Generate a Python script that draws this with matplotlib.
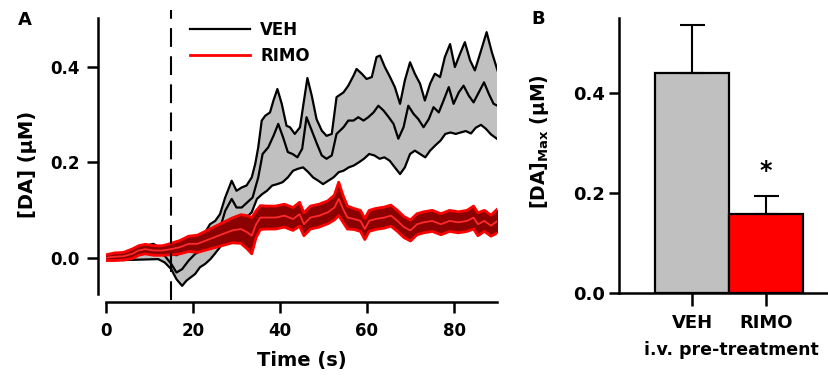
import matplotlib
matplotlib.use("Agg")
import matplotlib.pyplot as plt
from matplotlib.lines import Line2D
import numpy as np

plt.rcParams['font.family'] = ['DejaVu Sans']
plt.rcParams['font.weight'] = 'bold'
plt.rcParams['mathtext.fontset'] = 'dejavusans'

# ---------------- Panel A data ----------------
veh_upper_t = [0, 4, 7.8, 10.9, 12.8, 15, 16.2, 17.8, 19.3, 20.5, 21.6, 22.8, 23.9, 25.1, 26.2, 27.4,
               28.9, 30, 31.2, 32.3, 33.5, 34.3, 35, 35.8, 36.6, 37.7, 38.5, 39.4, 40.4, 41.5, 42.3,
               43.4, 44.6, 45.4, 46.3, 47.3, 48.4, 49.6, 50.7, 51.9, 53, 54.6, 55.7, 56.9, 57.6, 58.8,
               59.9, 61.1, 62.2, 63, 64.1, 65.3, 66.4, 67.6, 68.7, 69.9, 71, 72.2, 73.3, 74.5, 75.6,
               76.8, 77.9, 79.1, 80.2, 81.4, 82.5, 83.7, 84.8, 86, 87.5, 88.7, 90]
veh_upper = [0.004, 0.008, 0.022, 0.029, 0.018, 0.008, 0.005, 0.015, 0.018, 0.032, 0.043, 0.053, 0.07,
             0.077, 0.091, 0.126, 0.161, 0.14, 0.147, 0.151, 0.168, 0.196, 0.231, 0.287, 0.297, 0.304,
             0.329, 0.353, 0.322, 0.276, 0.273, 0.259, 0.273, 0.322, 0.376, 0.339, 0.29, 0.266, 0.255,
             0.259, 0.336, 0.346, 0.36, 0.381, 0.395, 0.385, 0.374, 0.378, 0.42, 0.423, 0.399, 0.378,
             0.357, 0.322, 0.371, 0.409, 0.385, 0.364, 0.329, 0.364, 0.385, 0.378, 0.42, 0.447, 0.399,
             0.427, 0.451, 0.413, 0.392, 0.427, 0.472, 0.43, 0.392]

veh_mean_t = [0, 3, 6, 8, 10, 12, 13.5, 15, 16.2, 17.5, 19, 20.5, 22, 23.5, 25, 26.5, 27.4, 28.9, 30,
              31.2, 32.5, 33.7, 35, 36, 37.3, 38.5, 39.6, 40.7, 41.8, 42.9, 44, 45.1, 46.1, 47.3, 48.5,
              49.6, 50.7, 51.9, 53, 54.6, 55.7, 56.9, 58, 59.2, 60.3, 61.5, 62.6, 63.8, 65, 66.1, 67.2,
              68.4, 69.5, 70.7, 71.8, 73, 74.2, 75.3, 76.5, 77.6, 78.8, 79.9, 81.1, 82.2, 83.4, 84.5,
              85.7, 86.9, 88, 89.1, 90]
veh_mean = [0.002, 0.0, 0.006, 0.01, 0.015, 0.01, 0.004, -0.013, -0.031, -0.024, -0.006, 0.008, 0.015,
            0.036, 0.05, 0.07, 0.098, 0.123, 0.105, 0.105, 0.116, 0.126, 0.168, 0.217, 0.231, 0.255,
            0.28, 0.252, 0.221, 0.217, 0.21, 0.228, 0.294, 0.266, 0.238, 0.214, 0.207, 0.214, 0.259,
            0.273, 0.287, 0.287, 0.294, 0.287, 0.294, 0.304, 0.318, 0.308, 0.294, 0.28, 0.249, 0.273,
            0.318, 0.301, 0.29, 0.273, 0.29, 0.315, 0.304, 0.329, 0.357, 0.322, 0.346, 0.36, 0.339,
            0.325, 0.346, 0.367, 0.343, 0.322, 0.318]

veh_lower_t = [0, 4, 8, 12, 13.5, 15, 16.2, 17.5, 18.5, 19.5, 20.5, 21.6, 22.8, 24, 25, 26.2, 27.4,
               28.6, 29.7, 31, 32.3, 33.5, 34.7, 35.9, 37, 38.2, 39.4, 40.6, 41.8, 43, 44.1, 45.3,
               46.5, 47.6, 48.8, 49.9, 51.1, 52.3, 53.5, 54.6, 55.8, 57, 58.2, 59.3, 60.5, 61.7,
               62.9, 64, 65.2, 66.4, 67.6, 68.7, 69.9, 71, 72.2, 73.4, 74.5, 75.7, 76.9, 78, 79.2,
               80.4, 81.5, 82.7, 83.9, 85, 86.2, 87.3, 88.5, 90]
veh_lower = [-0.002, -0.005, -0.004, -0.003, -0.01, -0.024, -0.045, -0.059, -0.048, -0.041, -0.034,
             -0.02, -0.013, -0.003, 0.008, 0.022, 0.036, 0.05, 0.07, 0.077, 0.084, 0.095, 0.123,
             0.133, 0.14, 0.151, 0.154, 0.158, 0.168, 0.182, 0.186, 0.189, 0.179, 0.168, 0.161,
             0.154, 0.161, 0.168, 0.179, 0.182, 0.189, 0.193, 0.2, 0.207, 0.217, 0.214, 0.207, 0.21,
             0.203, 0.189, 0.175, 0.189, 0.217, 0.224, 0.217, 0.21, 0.224, 0.235, 0.245, 0.259,
             0.262, 0.259, 0.262, 0.265, 0.26, 0.272, 0.278, 0.27, 0.258, 0.248]

rimo_t = [0, 2, 4, 6, 7.5, 9, 11, 13, 15, 17, 19, 21, 23, 25, 27, 29, 31, 32.5, 33.5, 34.5, 35.5, 37,
          39, 41, 43, 44.5, 45.5, 47, 49, 51, 52.5, 53.5, 54.5, 55.5, 57, 58.5, 59.5, 60.5, 62, 64,
          65.5, 67, 68.5, 70, 71.5, 73, 75, 77, 79, 81, 83, 84.5, 85.5, 87, 88.5, 90]
rimo_mean = [0.0, 0.002, 0.003, 0.008, 0.015, 0.018, 0.015, 0.015, 0.018, 0.022, 0.029, 0.029, 0.036,
             0.043, 0.05, 0.057, 0.06, 0.053, 0.046, 0.07, 0.084, 0.084, 0.084, 0.088, 0.081, 0.091,
             0.07, 0.084, 0.088, 0.095, 0.105, 0.123, 0.102, 0.084, 0.081, 0.077, 0.06, 0.077, 0.081,
             0.084, 0.088, 0.077, 0.064, 0.057, 0.07, 0.074, 0.077, 0.07, 0.077, 0.074, 0.077, 0.084,
             0.07, 0.077, 0.067, 0.077]
rimo_sem = [0.006, 0.008, 0.008, 0.01, 0.01, 0.01, 0.01, 0.01, 0.012, 0.014, 0.016, 0.018, 0.02, 0.022,
            0.024, 0.026, 0.03, 0.035, 0.038, 0.028, 0.025, 0.024, 0.024, 0.024, 0.024, 0.025, 0.024,
            0.024, 0.024, 0.024, 0.026, 0.035, 0.028, 0.024, 0.022, 0.022, 0.022, 0.022, 0.022, 0.022,
            0.022, 0.022, 0.022, 0.022, 0.022, 0.022, 0.022, 0.022, 0.022, 0.022, 0.022, 0.024, 0.024,
            0.022, 0.022, 0.025]

injection_time = 15
a_xticks = [0, 20, 40, 60, 80]
a_yticks = [0.0, 0.2, 0.4]
legend_labels = ["VEH", "RIMO"]

# ---------------- Panel B data ----------------
groups = ["VEH", "RIMO"]
max_da = [0.441, 0.158]
max_da_err = [0.095, 0.037]
b_yticks = [0.0, 0.2, 0.4]

# ---------------- Figure ----------------
fig = plt.figure(figsize=(8.29, 3.80), dpi=100)
W, H = 829, 380

def px_axes(l, r, t, b):
    return fig.add_axes([l / W, 1 - b / H, (r - l) / W, (b - t) / H])

axA = px_axes(106, 497.5, 18.3, 294)
LW = 1.8

# VEH band
poly_x = np.concatenate([veh_upper_t, veh_lower_t[::-1]])
poly_y = np.concatenate([veh_upper, veh_lower[::-1]])
axA.fill(poly_x, poly_y, color='#c0c0c0', lw=0, zorder=1)
for tt, yy in [(veh_upper_t, veh_upper), (veh_mean_t, veh_mean), (veh_lower_t, veh_lower)]:
    axA.plot(tt, yy, color='black', lw=1.6, zorder=2, solid_joinstyle='round')

# RIMO band
rm = np.array(rimo_mean)
rs = np.array(rimo_sem)
axA.fill_between(rimo_t, rm - rs, rm + rs, color='#8b0000', lw=0, zorder=3)
axA.plot(rimo_t, rm + rs, color='#ff0000', lw=2.0, zorder=4)
axA.plot(rimo_t, rm - rs, color='#ff0000', lw=2.0, zorder=4)
axA.plot(rimo_t, rm, color='#ff2a2a', lw=1.3, zorder=5)

axA.axvline(injection_time, ymin=-0.022, ymax=1.03, color='black', lw=1.5,
            linestyle=(0, (9, 4.5)), clip_on=False, zorder=6)

axA.set_xlim(0, 90)
axA.set_ylim(-0.076, 0.501)
axA.set_xticks(a_xticks)
axA.set_yticks(a_yticks)
axA.set_yticklabels([f"{v:.1f}" for v in a_yticks])
for s in ['top', 'right']:
    axA.spines[s].set_visible(False)
axA.spines['left'].set_position(('outward', 6))
axA.spines['bottom'].set_position(('outward', 6))
for s in ['left', 'bottom']:
    axA.spines[s].set_linewidth(LW)
axA.tick_params(axis='both', which='major', length=8, width=LW, labelsize=12)
axA.tick_params(axis='y', pad=5)
axA.tick_params(axis='x', pad=6)
axA.set_xlabel("Time (s)", fontsize=14, fontweight='bold')
axA.set_ylabel("[DA] (μM)", fontsize=14, fontweight='bold')
axA.xaxis.set_label_coords(0.5, -0.205)
axA.yaxis.set_label_coords(-0.176, 0.47)

handles = [Line2D([], [], color='black', lw=1.6), Line2D([], [], color='#ff0000', lw=2.0)]
axA.legend(handles, legend_labels, loc='upper left', bbox_to_anchor=(0.2146, 0.99),
           frameon=False, fontsize=12, handlelength=3.6, handletextpad=0.6,
           labelspacing=0.45, borderpad=0, borderaxespad=0)

# ---------------- Panel B ----------------
axB = px_axes(619, 838, 18, 293)
x = np.arange(len(groups))
axB.bar(x, max_da, width=1.0, color=['#c0c0c0', '#ff0000'], edgecolor='black', linewidth=1.6, zorder=2)
axB.errorbar(x, max_da, yerr=[np.zeros(len(groups)), max_da_err], fmt='none', ecolor='black',
             elinewidth=1.5, capsize=9, capthick=1.5, zorder=3)
axB.text(x[1], max_da[1] + max_da_err[1] + 0.05, '*', ha='center', va='center', fontsize=17,
         fontweight='bold')
axB.set_xlim(-0.986, 1.973)
axB.set_ylim(0, 0.55)
axB.set_xticks(x)
axB.set_xticklabels(groups)
axB.set_yticks(b_yticks)
axB.set_yticklabels([f"{v:.1f}" for v in b_yticks])
for s in ['top', 'right']:
    axB.spines[s].set_visible(False)
for s in ['left', 'bottom']:
    axB.spines[s].set_linewidth(LW)
axB.tick_params(axis='y', length=7, width=LW, labelsize=13, pad=3)
axB.tick_params(axis='x', length=9, width=LW, labelsize=13, pad=6)
axB.set_xlabel("i.v. pre-treatment", fontsize=12.5, fontweight='bold')
axB.set_ylabel(r"[DA]$_{\mathbf{Max}}$ (μM)", fontsize=13.5, fontweight='bold')
axB.xaxis.set_label_coords(0.511, -0.175)
axB.yaxis.set_label_coords(-0.31, 0.55)

fig.text(25 / W, 1 - 20 / H, "A", ha='center', va='center', fontsize=13, fontweight='bold')
fig.text(538 / W, 1 - 19 / H, "B", ha='center', va='center', fontsize=13, fontweight='bold')

fig.savefig("out.png", dpi=100)
